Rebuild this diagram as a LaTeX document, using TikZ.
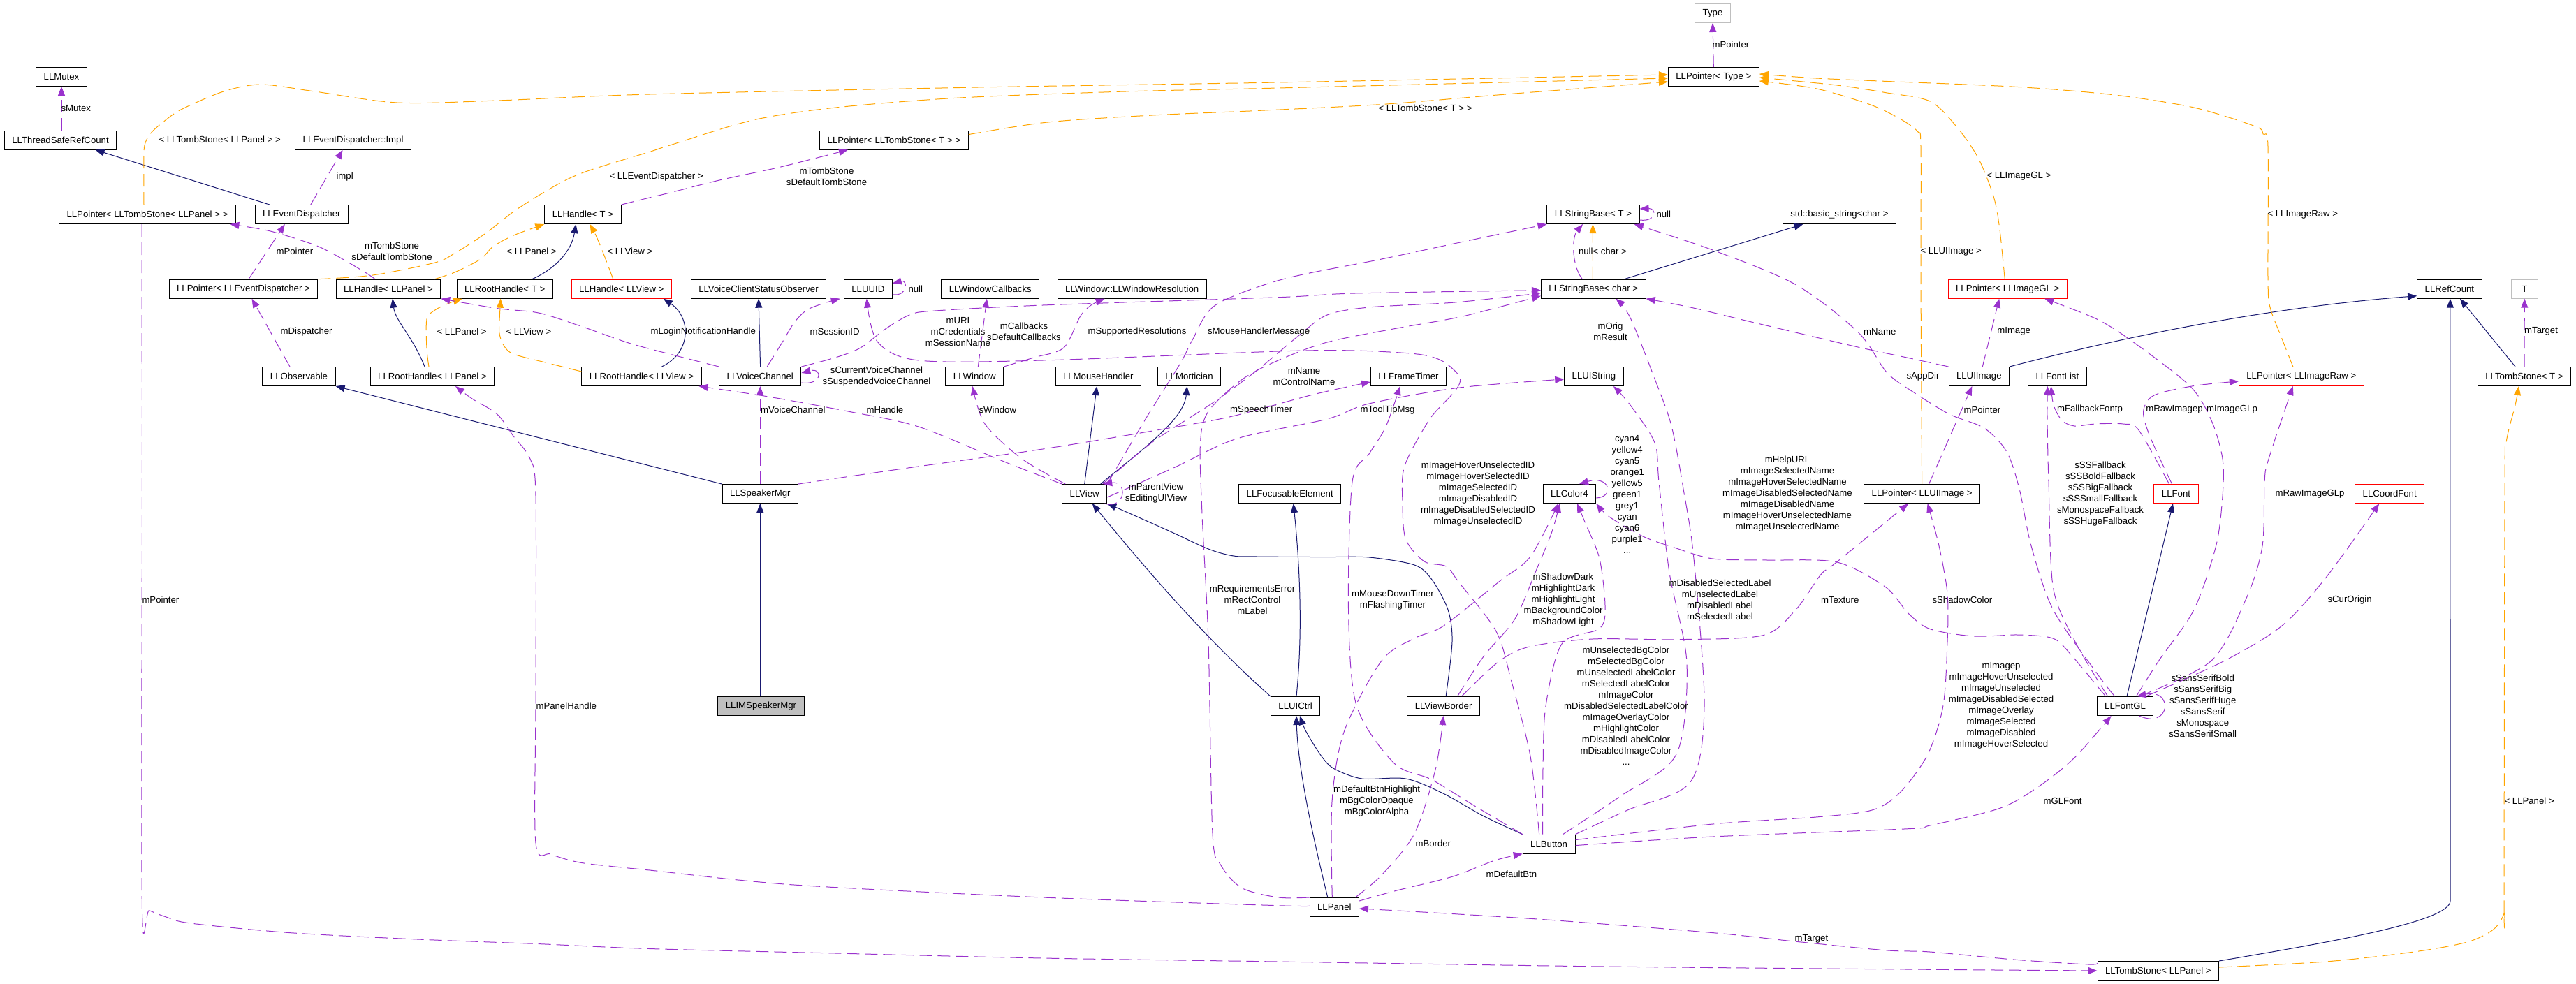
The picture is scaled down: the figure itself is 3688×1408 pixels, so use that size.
\documentclass[tikz,border=0pt]{standalone}
\usepackage{fontspec}
\setmainfont{Liberation Sans}
\usepackage{tikz}
\usetikzlibrary{arrows.meta}

\definecolor{inhblue}{HTML}{191970}
\definecolor{usepurple}{HTML}{9A32CD}
\definecolor{tmplorange}{HTML}{FFA500}
\definecolor{graybox}{HTML}{BFBFBF}
\newcommand{\dxfont}{\fontsize{13.2pt}{16pt}\selectfont}

\begin{document}
\begin{tikzpicture}[x=1pt,y=-1pt,>={Triangle[length=13pt,width=10pt]},line width=1pt]
  \tikzstyle{every node}=[font=\dxfont]
  \tikzstyle{cls}=[draw=black,fill=white,minimum height=27pt,inner xsep=11pt,inner ysep=0pt]
  \tikzstyle{redcls}=[cls,draw=red]
  \tikzstyle{extcls}=[cls,draw=graybox]
  \tikzstyle{lbl}=[inner sep=0pt,align=center]
  \tikzstyle{inherit}=[draw=inhblue,->]
  \tikzstyle{member}=[draw=usepurple,dash pattern=on 18pt off 8pt,->]
  \tikzstyle{tmpl}=[draw=tmplorange,dash pattern=on 18pt off 8pt,->]

  \useasboundingbox (0,0) rectangle (3688,1408);

  \node[cls] (mutex)    at (88,110)      {LLMutex};
  \node[cls] (tsrc)     at (86.5,200.6)  {LLThreadSafeRefCount};
  \node[cls] (edimpl)   at (505.6,200.6) {LLEventDispatcher::Impl};
  \node[cls] (ptrtsp)   at (211,307)     {LLPointer< LLTombStone< LLPanel > >};
  \node[cls] (evd)      at (431.8,307)   {LLEventDispatcher};
  \node[cls] (hdlT)     at (834.5,307)   {LLHandle< T >};
  \node[cls] (ptred)    at (348.5,413.7) {LLPointer< LLEventDispatcher >};
  \node[cls] (hdlpanel) at (556,413.7)   {LLHandle< LLPanel >};
  \node[cls] (rhT)      at (722.7,413.7) {LLRootHandle< T >};
  \node[redcls] (hdlview) at (889.8,413.7) {LLHandle< LLView >};
  \node[cls] (obs)      at (428,539)     {LLObservable};
  \node[cls] (rhpanel)  at (619,539)     {LLRootHandle< LLPanel >};
  \node[cls] (rhview)   at (918.5,539)   {LLRootHandle< LLView >};
  \node[cls] (ptrtsT)   at (1280,200.6)  {LLPointer< LLTombStone< T > >};
  \node[cls] (vcso)     at (1086,413.7)  {LLVoiceClientStatusObserver};
  \node[cls] (uuid)     at (1242.8,413.7) {LLUUID};
  \node[cls] (wincb)    at (1417.8,413.7) {LLWindowCallbacks};
  \node[cls] (winres)   at (1620.7,413.7) {LLWindow::LLWindowResolution};
  \node[cls] (vchan)    at (1088.3,539)  {LLVoiceChannel};
  \node[cls] (window)   at (1395.3,539)  {LLWindow};
  \node[cls] (mouse)    at (1572.3,539)  {LLMouseHandler};
  \node[cls] (mort)     at (1702.5,539)  {LLMortician};
  \node[cls] (spk)      at (1088.3,707)  {LLSpeakerMgr};
  \node[cls] (view)     at (1552.7,707)  {LLView};
  \node[cls] (focus)    at (1846.7,707)  {LLFocusableElement};
  \node[extcls] (type)  at (2452,19)     {Type};
  \node[cls] (ptrtype)  at (2453.3,110)  {LLPointer< Type >};
  \node[cls] (sbT)      at (2281,307)    {LLStringBase< T >};
  \node[cls] (stdstr)   at (2633.4,307)  {std::basic\_string<char >};
  \node[cls] (sbchar)   at (2281.3,413.7) {LLStringBase< char >};
  \node[cls] (ftimer)   at (2016.5,539)  {LLFrameTimer};
  \node[cls] (uistr)    at (2281.9,539)  {LLUIString};
  \node[cls] (color)    at (2247,707)    {LLColor4};
  \node[cls] (ptruiimg) at (2751.6,707)  {LLPointer< LLUIImage >};
  \node[redcls] (ptrgl) at (2874.2,413.7) {LLPointer< LLImageGL >};
  \node[cls] (refcount) at (3506.9,413.7) {LLRefCount};
  \node[extcls,minimum width=38pt] (tparam) at (3614.3,413.7) {T};
  \node[cls] (uiimg)    at (2833.3,539)  {LLUIImage};
  \node[cls] (fontlist) at (2945.4,539)  {LLFontList};
  \node[redcls] (ptrraw) at (3294.8,539) {LLPointer< LLImageRaw >};
  \node[cls] (tsT)      at (3614,539)    {LLTombStone< T >};
  \node[redcls] (font)  at (3115.5,707)  {LLFont};
  \node[redcls] (coord) at (3421.2,707)  {LLCoordFont};
  \node[cls,fill=graybox] (imspk) at (1089.5,1011) {LLIMSpeakerMgr};
  \node[cls] (uictrl)   at (1854.6,1011) {LLUICtrl};
  \node[cls] (vborder)  at (2066.6,1011) {LLViewBorder};
  \node[cls] (button)   at (2217.6,1208.6) {LLButton};
  \node[cls] (panel)    at (1910.3,1299) {LLPanel};
  \node[cls] (fontgl)   at (3042.5,1011) {LLFontGL};
  \node[cls] (tspanel)  at (3089.8,1390) {LLTombStone< LLPanel >};

  % base classes
  \draw[inherit] ([xshift=-46pt]evd.north) -- ([xshift=50pt]tsrc.south);
  \draw[inherit] ([xshift=39pt]rhT.north) .. controls (795,385) and (818,360) .. ([xshift=-10pt]hdlT.south);
  \draw[inherit] ([xshift=-11pt]rhpanel.north) .. controls (590,480) and (566,460) .. ([xshift=6pt]hdlpanel.south);
  \draw[inherit] ([xshift=29pt]rhview.north) .. controls (990,505) and (990,455) .. ([xshift=60pt]hdlview.south);
  \draw[inherit] ([xshift=0.3pt]vchan.north) -- (vcso.south);
  \draw[inherit] ([xshift=-55pt]spk.north) -- (obs.south east);
  \draw[inherit] ([xshift=-1.2pt]imspk.north) -- (spk.south);
  \draw[inherit] (view.north) -- ([xshift=-2pt]mouse.south);
  \draw[inherit] ([xshift=23pt]view.north) .. controls (1640,640) and (1695,600) .. ([xshift=-3pt]mort.south);
  \draw[inherit] (uictrl.north west) .. controls (1720,910) and (1620,790) .. ([xshift=11pt]view.south);
  \draw[inherit] plot[smooth] coordinates {([xshift=3.5pt]vborder.north) (2079,919) (2073,873) (2050,830) (2025,809) (1960,798) (1895,797.6) (1800,797) (1766,796) (1730,786) (1671,759) (view.south east)};
  \draw[inherit] ([xshift=1.4pt]uictrl.north) .. controls (1866,900) and (1860,800) .. ([xshift=5pt]focus.south);
  \draw[inherit] plot[smooth] coordinates {(button.north west) (2124,1168.6) (2066,1136) (2012.5,1115) (1950,1115) (1910,1100.7) (1892,1083) (1869.6,1047) ([xshift=6.4pt]uictrl.south)};
  \draw[inherit] ([xshift=-9.5pt]panel.north) .. controls (1880,1200) and (1858,1100) .. ([xshift=1.4pt]uictrl.south);
  \draw[inherit] ([xshift=44pt]sbchar.north) -- ([xshift=-52pt]stdstr.south);
  \draw[inherit] (uiimg.north east) .. controls (3050,480) and (3250,440) .. ([yshift=-10pt]refcount.west);
  \draw[inherit] ([xshift=-13pt]tsT.north) -- ([xshift=15pt]refcount.south);
  \draw[inherit] (tspanel.north east) .. controls (3330,1350) and (3508,1320) .. (3508,1290) -- ([xshift=1pt]refcount.south);
  \draw[inherit] ([xshift=2.5pt]fontgl.north) -- ([xshift=-4.5pt]font.south);

  % template instances
  \draw[tmpl] plot[smooth] coordinates {([xshift=-5pt]ptrtsp.north) (205.8,240) (207,208) (216.5,190) (237,172) (261,156) (320,131) (373.7,121) (450.8,131) (569,147) (711.7,144) (930,135) (1400,125) (1830,118) ([yshift=3pt]ptrtype.west)};
  \draw[tmpl] plot[smooth] coordinates {(ptred.north east) (533.8,394) (622.8,376) (652,362) (694,335) (741,299) (800.7,262.7) (842,244.6) (930,217.4) (959,208) (1078,172) (1196.6,154) (1374.5,140) (1611.7,131) (1830,126) ([yshift=-2pt]ptrtype.west)};
  \draw[tmpl] plot[smooth] coordinates {([yshift=8pt]ptrtsT.east) (1500,175) (1650,165) (1800,158.5) (1978,149.5) (2156,135) ([yshift=-7pt]ptrtype.west)};
  \draw[tmpl] plot[smooth] coordinates {(ptruiimg.north) (2750,400) (2750,210) (2745,188) (2720,170) (2678,150) (2600.7,127) ([yshift=-6pt]ptrtype.east)};
  \draw[tmpl] plot[smooth] coordinates {([xshift=-4pt]ptrgl.north) (2862.6,326) (2854,281) (2832,226) (2800.8,181) (2763,145) (2700,132.7) (2630,122) ([yshift=-1pt]ptrtype.east)};
  \draw[tmpl] plot[smooth] coordinates {([xshift=-12pt]ptrraw.north) (3265,480) (3250,440) (3247,400) (3247,210) (3240,192) (3229,181) (3141,154) (3027.7,136) (2889,124.5) (2700,116.4) (2600,112) ([yshift=4pt]ptrtype.east)};
  \draw[tmpl] plot[smooth] coordinates {([xshift=-9pt]hdlpanel.north east) (652,389.5) (688,371) (706,353) (735.4,337) (hdlT.south west)};
  \draw[tmpl] ([xshift=-12pt]hdlview.north) .. controls (865,365) and (855,340) .. ([xshift=10pt]hdlT.south);
  \draw[tmpl] plot[smooth] coordinates {([xshift=-5pt]rhpanel.north) (611,500) (611,457) (622.8,444) (640.6,435) ([xshift=-61pt]rhT.south)};
  \draw[tmpl] plot[smooth] coordinates {([yshift=7pt]rhview.west) (789,521) (735.4,507) (720.6,493.6) (714.7,475.5) (715.5,450) ([xshift=-6pt]rhT.south)};
  \draw[tmpl] ([xshift=-1pt]sbchar.north) -- ([xshift=-0.6pt]sbT.south);
  \draw[tmpl] plot[smooth] coordinates {([yshift=5pt]tspanel.east) (3330,1377) (3456,1363) (3532,1349) (3569.6,1331) (3585,1308) (3585,1285) (3586,700) (3588,634) (3601,580) ([xshift=-8pt]tsT.south)};

  % members
  \draw[member] ([xshift=1.5pt]tsrc.north) -- (mutex.south);
  \draw[member] ([xshift=13pt]evd.north) -- ([xshift=-15pt]edimpl.south);
  \draw[member] ([xshift=7.5pt]ptred.north) -- ([xshift=-24pt]evd.south);
  \draw[member] ([xshift=-13pt]obs.north) -- ([xshift=12pt]ptred.south);
  \draw[member] plot[smooth] coordinates {([xshift=-19pt]hdlpanel.north) (522,389.5) (474.5,362) (444.8,348.7) (385.5,330.6) ([xshift=-8.5pt]ptrtsp.south east)};
  \draw[member] plot[smooth] coordinates {(hdlT.north east) (930,283) (959,276) (1030,258) (1113.5,240) ([xshift=-66pt]ptrtsT.south)};
  \draw[member] plot[smooth] coordinates {([xshift=-8pt]ptrtsp.south) (203.4,700) (203.4,1299) (213.5,1303.6) (237,1312.7) (272.8,1322) (415,1335.6) (593,1344.8) (771,1351.6) (930,1358.5) (1196.6,1365) (1493,1372) (1830,1377) (2274.5,1383.7) (2730,1388) (tspanel.west)};
  \draw[member] plot[smooth] coordinates {([yshift=11pt]tspanel.west) (2990,1381) (2889,1374.5) (2763,1363) (2700,1360.8) (2569,1348) (2452,1335.6) (2215,1317) (2037,1306) ([yshift=-2pt]panel.east)};
  \draw[member] plot[smooth] coordinates {([yshift=2pt]panel.west) (1830,1296.7) (1493,1285) (1137,1267) (930,1246) (890,1242) (830,1235) (789,1223) (767,1207) (767,1000) (767,710) (759,657) (735.4,625) (711.7,593) (676,571) ([xshift=33pt]rhpanel.south)};
  \draw[member] plot[smooth] coordinates {(vchan.north west) (959,507) (900,491) (830,466.5) (771,448) (711.7,441.6) (hdlpanel.south east)};
  \draw[member] plot[smooth] coordinates {([xshift=10pt]vchan.north) (1120,490) (1137,462) (1155,444) (1180,434) ([xshift=-40pt]uuid.south)};
  \draw[member] ([yshift=-8pt]uuid.east) .. controls (1300,425) and (1300,400) .. ([yshift=8pt]uuid.east);
  \draw[member] ([yshift=-9pt]vchan.east) .. controls (1178,552) and (1178,526) .. ([yshift=5pt]vchan.east);
  \draw[member] plot[smooth] coordinates {(vchan.north east) (1196.6,511.8) (1232,498) (1267.7,471) (1303,450.6) (1339,445) (1493,437) (1830,425.7) (1940,420) ([yshift=-2pt]sbchar.west)};
  \draw[member] ([xshift=5pt]window.north) -- ([xshift=-5pt]wincb.south);
  \draw[member] plot[smooth] coordinates {(window.north east) (1480,512) (1522.8,498) (1546.5,453) (1562,437) ([xshift=-39pt]winres.south)};
  \draw[member] plot[smooth] coordinates {([xshift=5pt]view.north west) (1463,657) (1410,607) ([xshift=-3pt]window.south)};
  \draw[member] plot[smooth] coordinates {(view.north west) (1440,662) (1315,611) (1214,589) (1100,568) ([xshift=82pt]rhview.south)};
  \draw[member] (spk.north) -- (vchan.south);
  \draw[member] plot[smooth] coordinates {(spk.north east) (1300,670) (1493,643) (1650,617) (1760,597) (1880,565) ([yshift=-8pt]ftimer.west)};
  \draw[member] plot[smooth] coordinates {([xshift=26pt]view.north) (1650,633) (1736,577) (1800,530) (1860,480) (1900,451) (1960,440) (2083,433) ([yshift=-6pt]sbchar.west)};
  \draw[member] plot[smooth] coordinates {(view.north east) (1640,600) (1690,520) (1707,487) (1740,437) (1836,400) (1978,371) (2100,345) (sbT.south west)};
  \draw[member] ([xshift=-4pt]view.south east) .. controls (1612,730) and (1615,688) .. ([xshift=-6pt]view.north east);
  \draw[member] plot[smooth] coordinates {([yshift=-5pt]view.east) (1680,670) (1771,628) (1900,600) (1960,578) (2090,555) ([yshift=-4pt]uistr.west)};
  \draw[member] plot[smooth] coordinates {(button.north west) (2108,1152) (2049,1116) (1996,1093) (1942,1010) (1930.5,873) (1936,690) (1960,650) (1984,611) ([xshift=-12pt]ftimer.south)};
  \draw[member] plot[smooth] coordinates {(button.north east) (2330,1160) (2420,1120) (2440,1010) (2425,800) (2410,700) (2393,610) (2370,545) (2334,455) ([xshift=32pt]sbchar.south)};
  \draw[member] plot[smooth] coordinates {([xshift=20pt]button.north) (2320,1140) (2400,1080) (2415,950) (2390,820) (2375,690) (2369,634) (2334,580) ([xshift=28pt]uistr.south)};
  \draw[member] plot[smooth] coordinates {([xshift=-9pt]button.north) (2209,1100) (2213,1011) (2236,922) (2290,900) (2298,868) (2290,800) (2270,750) ([xshift=11pt]color.south)};
  \draw[member] plot[smooth] coordinates {([xshift=20pt]vborder.north) (2124,940) (2169,886) (2200,815) (2222,761) ([xshift=-14pt]color.south)};
  \draw[member] plot[smooth] coordinates {([xshift=26pt]vborder.north) (2146,947) (2191,925.7) (2280,915) (2400,915.7) (2523.6,909.8) (2571,873) (2606.6,823) (2630,804.5) ([xshift=64pt]ptruiimg.south west)};
  \draw[member] ([yshift=-6pt]color.east) .. controls (2312,712) and (2305,680) .. ([xshift=14pt]color.north);
  \draw[member] plot[smooth] coordinates {([xshift=-28pt]fontgl.north) (2964.6,937) (2939,914) (2889,909) (2826,911) (2763,900.6) (2731.5,877.7) (2700,841) (2630,805) (2530,802) (2452,800) (2394,783) (2352,768) (2304,740) (color.south east)};
  \draw[member] plot[smooth] coordinates {([xshift=-3pt]panel.north) (1907,1148) (1924.5,1047) (1978,946) (2025,914) (2067,896) (2146,833) (2191,797) ([xshift=-16pt]color.south)};
  \draw[member] plot[smooth] coordinates {([xshift=30pt]panel.north) (1978,1253) (2025,1193.6) (2055,1102) (vborder.south)};
  \draw[member] plot[smooth] coordinates {([yshift=9pt]panel.east) (2000,1275) (2080,1255) (2140,1232) (button.south west)};
  \draw[member] plot[smooth] coordinates {(panel.north west) (1830,1285) (1778,1271.5) (1748,1239) (1736,1193.6) (1730,919) (1721,736) (1718.5,634) (1730,589) (1778,543.5) (1830,516) (1900,490) (2000,470) (2094,453) ([yshift=-10pt]sbchar.west)};
  \draw[member] plot[smooth] coordinates {([xshift=-14pt]button.north) (2191,1083) (2164,976) (2142,904) (2088,833) (2070.5,811) (2039,804) (2012.5,772) (2008,720) (2011,667) (2047,600) (2083,560) (2090,540) (2065,517) (2029,507) (1940,502) (1830,503) (1493,516) (1315,516) (1256,489) ([xshift=-2pt]uuid.south)};
  \draw[member] plot[smooth] coordinates {(uiimg.north west) (2730,512) (2658.6,496.7) (2511.7,462) (2420,440) (sbchar.south east)};
  \draw[member] plot[smooth] coordinates {([xshift=-15pt]fontgl.north) (3002.5,964.7) (2939.4,873) (2908,781.6) (2891,700) (2873,647) (2840.7,613) (2790.7,593) (2737,560) (2701,533) (2660,475.5) (2571,407.6) (2452,358) ([xshift=-8pt]sbT.south east)};
  \draw[member] ([xshift=5pt]uiimg.north) -- ([xshift=-12pt]ptrgl.south);
  \draw[member] ([xshift=10pt]ptruiimg.north) -- ([xshift=-10pt]uiimg.south);
  \draw[member] plot[smooth] coordinates {([xshift=-6pt]font.north) (3078,625) (3068.6,589) (3084,566) (3141,552.5) ([yshift=-7pt]ptrraw.west)};
  \draw[member] plot[smooth] coordinates {([xshift=16pt]fontgl.north) (3090.7,946) (3141,873) (3172.6,781.6) (3182,710) (3182,657) (3166,602) (3135,552.5) (3053,489) (3002,457) ([xshift=53pt]ptrgl.south)};
  \draw[member] plot[smooth] coordinates {([xshift=20pt]fontgl.north) (3166,946) (3216.7,855) (3239,781.6) (3242,690) (3248,657) ([xshift=-12pt]ptrraw.south)};
  \draw[member] plot[smooth] coordinates {([xshift=30pt]fontgl.north) (3185,946) (3267,896) (3330,827) ([xshift=-15pt]coord.south)};
  \draw[member] ([xshift=20pt]fontgl.south) .. controls (3108,1045) and (3112,985) .. ([xshift=17pt]fontgl.north);
  \draw[member] plot[smooth] coordinates {([yshift=-2pt]button.east) (2452,1198) (2730,1186.8) (2763,1182) (2864,1157) (2920.5,1125) (2971,1084) ([xshift=-20pt]fontgl.south)};
  \draw[member] plot[smooth] coordinates {([yshift=6pt]button.east) (2452,1180) (2600,1170) (2680,1160) (2720,1135) (2760,1080) (2782,1010) (2788,919) (2788,850) (2776,781.6) ([xshift=8pt]ptruiimg.south)};
  \draw[member] (tsT.north) -- (tparam.south);
  \draw[member] (ptrtype.north) -- (type.south);
  \draw[member] ([yshift=-8pt]sbT.east) .. controls (2372,318) and (2372,298) .. ([yshift=8pt]sbT.east);
  \draw[member] ([xshift=-16pt]sbchar.north) .. controls (2250,380) and (2250,340) .. ([xshift=-15pt]sbT.south);
  \draw[member] plot[smooth] coordinates {([xshift=-10pt]font.north) (3062,616) (3040,607) (3000,607) (2970,610) (2952,602) (2940,580) ([xshift=-9pt]fontlist.south)};
  \draw[member] plot[smooth] coordinates {([xshift=-25pt]fontgl.north) (2971,919) (2939.4,841) (2933,690) (2931,600) ([xshift=-14pt]fontlist.south)};

  % labels
  \node[lbl,anchor=west] (lsMutex) at (87,155) {sMutex};
  \node[lbl,anchor=west] (lImpl) at (481,252.7) {impl};
  \node[lbl,anchor=west] (lTSPanel) at (227,200) {< LLTombStone< LLPanel > >};
  \node[lbl,anchor=west] (lPtrED) at (395,360) {mPointer};
  \node[lbl] (lTombA) at (561,360) {mTombStone\\sDefaultTombStone};
  \node[lbl,anchor=west] (lPanelA) at (725,360) {< LLPanel >};
  \node[lbl,anchor=west] (lViewA) at (869,360) {< LLView >};
  \node[lbl,anchor=west] (lEvD) at (872,253) {< LLEventDispatcher >};
  \node[lbl] (lTombB) at (1183.5,252.7) {mTombStone\\sDefaultTombStone};
  \node[lbl,anchor=west] (lTST) at (1973,155) {< LLTombStone< T > >};
  \node[lbl,anchor=west] (lPtrType) at (2451,64) {mPointer};
  \node[lbl,anchor=west] (lDispatcher) at (401,474.6) {mDispatcher};
  \node[lbl,anchor=west] (lPanelB) at (625,474.6) {< LLPanel >};
  \node[lbl,anchor=west] (lViewB) at (724,474.6) {< LLView >};
  \node[lbl,anchor=west] (lLogin) at (931,474.6) {mLoginNotificationHandle};
  \node[lbl,anchor=west] (lSession) at (1159,474.6) {mSessionID};
  \node[lbl,anchor=west] (lNullUUID) at (1300,413.7) {null};
  \node[lbl] (lURI) at (1371.5,474.6) {mURI\\mCredentials\\mSessionName};
  \node[lbl] (lCallbacks) at (1466,474.6) {mCallbacks\\sDefaultCallbacks};
  \node[lbl,anchor=west] (lResol) at (1557,474.6) {mSupportedResolutions};
  \node[lbl,anchor=west] (lMouseMsg) at (1728.6,474.6) {sMouseHandlerMessage};
  \node[lbl] (lVoiceSelf) at (1255,538.8) {sCurrentVoiceChannel\\sSuspendedVoiceChannel};
  \node[lbl] (lName) at (1867,538.7) {mName\\mControlName};
  \node[lbl,anchor=west] (lVoiceChan) at (1088.6,586.5) {mVoiceChannel};
  \node[lbl,anchor=west] (lHandle) at (1240,586.5) {mHandle};
  \node[lbl,anchor=west] (lWindow) at (1401,586.5) {sWindow};
  \node[lbl,anchor=west] (lSpeech) at (1760.7,586.7) {mSpeechTimer};
  \node[lbl,anchor=west] (lToolTip) at (1947,586.7) {mToolTipMsg};
  \node[lbl,anchor=west] (lNullSB) at (2371,307) {null};
  \node[lbl,anchor=west] (lNullC) at (2259.5,360) {null};
  \node[lbl,anchor=west] (lChar) at (2280,360) {< char >};
  \node[lbl] (lOrig) at (2305.5,475) {mOrig\\mResult};
  \node[lbl,anchor=west] (lUIImageT) at (2749,360) {< LLUIImage >};
  \node[lbl,anchor=west] (lImageGLT) at (2844,252.7) {< LLImageGL >};
  \node[lbl,anchor=west] (lImageRawT) at (3246,307) {< LLImageRaw >};
  \node[lbl,anchor=west] (lNameUI) at (2667.7,474.6) {mName};
  \node[lbl,anchor=west] (lImage) at (2858.8,474.6) {mImage};
  \node[lbl,anchor=west] (lTarget) at (3613.7,474.6) {mTarget};
  \node[lbl,anchor=west] (lAppDir) at (2729,538.7) {sAppDir};
  \node[lbl,anchor=west] (lPtrUI) at (2811,586.7) {mPointer};
  \node[lbl,anchor=west] (lFallback) at (2944.5,586.5) {mFallbackFontp};
  \node[lbl,anchor=west] (lRawImagep) at (3071.8,586.5) {mRawImagep};
  \node[lbl,anchor=west] (lImageGLp) at (3158.7,586.5) {mImageGLp};
  \node[lbl] (lImageIDs) at (2116,706.7) {mImageHoverUnselectedID\\mImageHoverSelectedID\\mImageSelectedID\\mImageDisabledID\\mImageDisabledSelectedID\\mImageUnselectedID};
  \node[lbl] (lColors) at (2329.7,707.7) {cyan4\\yellow4\\cyan5\\orange1\\yellow5\\green1\\grey1\\cyan\\cyan6\\purple1\\...};
  \node[lbl] (lHelpURL) at (2559,707) {mHelpURL\\mImageSelectedName\\mImageHoverSelectedName\\mImageDisabledSelectedName\\mImageDisabledName\\mImageHoverUnselectedName\\mImageUnselectedName};
  \node[lbl] (lSSFallback) at (3007,706.7) {sSSFallback\\sSSBoldFallback\\sSSBigFallback\\sSSSmallFallback\\sMonospaceFallback\\sSSHugeFallback};
  \node[lbl,anchor=west] (lRawImageGLp) at (3257,707) {mRawImageGLp};
  \node[lbl] (lParentView) at (1655,706) {mParentView\\sEditingUIView};
  \node[lbl] (lReqErr) at (1793,858.8) {mRequirementsError\\mRectControl\\mLabel};
  \node[lbl] (lMouseDown) at (1994,858.7) {mMouseDownTimer\\mFlashingTimer};
  \node[lbl] (lShadow) at (2238,859) {mShadowDark\\mHighlightDark\\mHighlightLight\\mBackgroundColor\\mShadowLight};
  \node[lbl] (lLabels) at (2462.5,858.7) {mDisabledSelectedLabel\\mUnselectedLabel\\mDisabledLabel\\mSelectedLabel};
  \node[lbl,anchor=west] (lTexture) at (2606.6,859) {mTexture};
  \node[lbl,anchor=west] (lShadowColor) at (2766,859) {sShadowColor};
  \node[lbl,anchor=west] (lCurOrigin) at (3332,859) {sCurOrigin};
  \node[lbl,anchor=west] (lPointerTS) at (203,858.5) {mPointer};
  \node[lbl,anchor=west] (lPanelHandle) at (767,1010.5) {mPanelHandle};
  \node[lbl] (lBgColors) at (2328,1010.5) {mUnselectedBgColor\\mSelectedBgColor\\mUnselectedLabelColor\\mSelectedLabelColor\\mImageColor\\mDisabledSelectedLabelColor\\mImageOverlayColor\\mHighlightColor\\mDisabledLabelColor\\mDisabledImageColor\\...};
  \node[lbl] (lImagep) at (2865,1010.7) {mImagep\\mImageHoverUnselected\\mImageUnselected\\mImageDisabledSelected\\mImageOverlay\\mImageSelected\\mImageDisabled\\mImageHoverSelected};
  \node[lbl] (lFonts) at (3153.7,1010.7) {sSansSerifBold\\sSansSerifBig\\sSansSerifHuge\\sSansSerif\\sMonospace\\sSansSerifSmall};
  \node[lbl] (lBtnHighlight) at (1971,1147) {mDefaultBtnHighlight\\mBgColorOpaque\\mBgColorAlpha};
  \node[lbl,anchor=west] (lGLFont) at (2925,1146.5) {mGLFont};
  \node[lbl,anchor=west] (lPanelT) at (3585,1146.5) {< LLPanel >};
  \node[lbl,anchor=west] (lBorder) at (2026,1208) {mBorder};
  \node[lbl,anchor=west] (lDefaultBtn) at (2127,1252) {mDefaultBtn};
  \node[lbl,anchor=west] (lTargetP) at (2569,1344) {mTarget};
\end{tikzpicture}
\end{document}
